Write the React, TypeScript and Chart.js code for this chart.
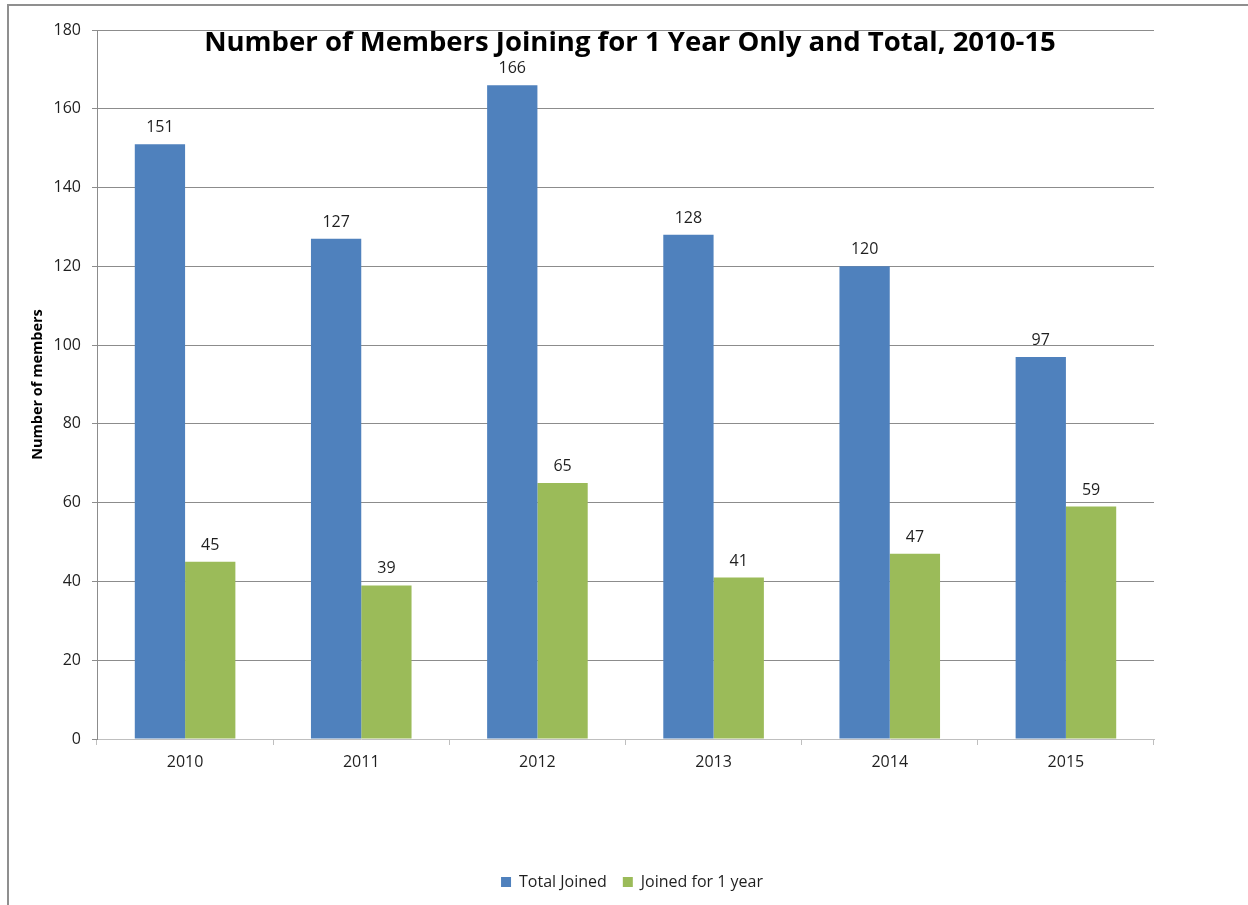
import React, { useEffect, useRef } from "react";
import { Chart, registerables } from "chart.js";

Chart.register(...registerables);

const TITLE = "Number of Members Joining for 1 Year Only and Total, 2010-15";
const Y_TITLE = "Number of members";
const YEARS = ["2010", "2011", "2012", "2013", "2014", "2015"];
const TOTAL_JOINED = [151, 127, 166, 128, 120, 97];
const JOINED_ONE_YEAR = [45, 39, 65, 41, 47, 59];
const SERIES_NAMES = ["Total Joined", "Joined for 1 year"];
const COLORS = ["#4F81BD", "#9BBB59"];
const Y_MIN = 0;
const Y_MAX = 180;
const Y_STEP = 20;

const FONT = "'Open Sans', 'Noto Sans', sans-serif";

const valueLabels = {
  id: "valueLabels",
  afterDatasetsDraw(chart: any) {
    const ctx = chart.ctx;
    ctx.save();
    ctx.font = `16px ${FONT}`;
    ctx.fillStyle = "#1F1F1F";
    ctx.textAlign = "center";
    ctx.textBaseline = "alphabetic";
    chart.data.datasets.forEach((ds: any, i: number) => {
      const meta = chart.getDatasetMeta(i);
      meta.data.forEach((el: any, j: number) => {
        ctx.fillText(String(ds.data[j]), el.x, el.y - 12);
      });
    });
    ctx.restore();
  },
};

const overlayTitle = {
  id: "overlayTitle",
  afterDraw(chart: any) {
    const ctx = chart.ctx;
    ctx.save();
    ctx.font = `bold 27.5px ${FONT}`;
    ctx.fillStyle = "#000000";
    ctx.textAlign = "center";
    ctx.textBaseline = "alphabetic";
    ctx.fillText(TITLE, 630, 51);
    ctx.restore();
  },
};

export default function App() {
  const ref = useRef<HTMLCanvasElement>(null);

  useEffect(() => {
    if (!ref.current) return;
    const chart = new Chart(ref.current, {
      type: "bar",
      data: {
        labels: YEARS,
        datasets: [
          {
            label: SERIES_NAMES[0],
            data: TOTAL_JOINED,
            backgroundColor: COLORS[0],
            categoryPercentage: 0.571,
            barPercentage: 1,
          },
          {
            label: SERIES_NAMES[1],
            data: JOINED_ONE_YEAR,
            backgroundColor: COLORS[1],
            categoryPercentage: 0.571,
            barPercentage: 1,
          },
        ],
      },
      options: {
        responsive: false,
        animation: false,
        layout: { padding: { left: 16, right: 0, top: 30, bottom: 5 } },
        plugins: {
          title: { display: false },
          tooltip: { enabled: false },
          legend: {
            position: "bottom",
            labels: {
              boxWidth: 10,
              boxHeight: 10,
              padding: 16,
              color: "#1F1F1F",
              font: { family: FONT, size: 16 },
            },
          },
        },
        scales: {
          x: {
            grid: {
              offset: true,
              drawOnChartArea: false,
              drawTicks: true,
              tickLength: 6,
              color: "#BFBFBF",
            },
            border: { color: "#BFBFBF", width: 1 },
            ticks: {
              color: "#1F1F1F",
              padding: 8,
              font: { family: FONT, size: 16 },
            },
            afterFit(scale: any) {
              scale.height = 119;
            },
          },
          y: {
            min: Y_MIN,
            max: Y_MAX,
            ticks: {
              stepSize: Y_STEP,
              color: "#1F1F1F",
              padding: 11,
              font: { family: FONT, size: 16 },
            },
            grid: {
              color: (c: any) =>
                c.tick && c.tick.value === 0 ? "rgba(0,0,0,0)" : "#8C8C8C",
              tickColor: "#8C8C8C",
              tickLength: 5,
              drawTicks: true,
            },
            border: { color: "#8C8C8C", width: 1 },
            title: {
              display: true,
              text: Y_TITLE,
              color: "#000000",
              padding: { top: 13, bottom: 0 },
              font: { family: FONT, size: 14.5, weight: "bold" },
            },
            afterFit(scale: any) {
              scale.width = 81;
            },
          },
          yRight: {
            position: "right",
            min: Y_MIN,
            max: Y_MAX,
            grid: { display: false, drawTicks: false },
            border: { display: false },
            ticks: { display: false },
            afterFit(scale: any) {
              scale.width = 94;
            },
          },
        },
      },
      plugins: [valueLabels, overlayTitle],
    });
    return () => chart.destroy();
  }, []);

  return (
    <div
      style={{
        position: "fixed",
        left: 0,
        top: 0,
        width: 1248,
        height: 905,
        overflow: "hidden",
        background: "#ffffff",
      }}
    >
      <canvas ref={ref} width={1248} height={905} style={{ display: "block" }} />
      <div
        style={{
          position: "absolute",
          left: 7,
          top: 4,
          width: 1300,
          height: 1000,
          border: "2px solid #8F8F8F",
          pointerEvents: "none",
        }}
      />
    </div>
  );
}
